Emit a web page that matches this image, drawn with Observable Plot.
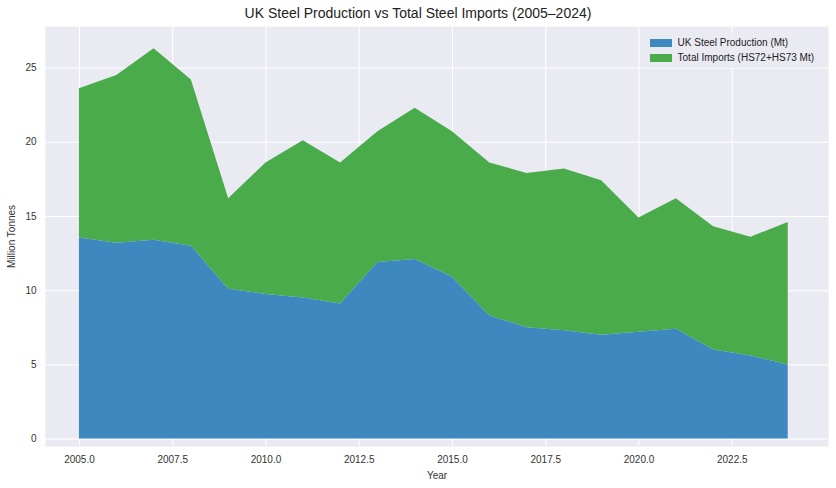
<!DOCTYPE html>
<html><head><meta charset="utf-8">
<script src="https://cdn.jsdelivr.net/npm/d3@7"></script>
<script src="https://cdn.jsdelivr.net/npm/@observablehq/plot@0.6"></script>
<style>
body{margin:0;background:#fff;font-family:"Liberation Sans",Arial,sans-serif;}
#wrap{position:relative;width:836px;}
#title{text-align:center;font-size:14px;color:#222;height:22px;line-height:26px;}
#legend{position:absolute;right:16px;top:32px;font-size:10px;color:#222;background:rgba(234,234,242,0.8);padding:3px 6px;line-height:15px;}
#legend span.sw{display:inline-block;width:22px;height:8px;margin-right:6px;vertical-align:-1px;}
</style></head><body>
<div id="wrap"><div id="title">UK Steel Production vs Total Steel Imports (2005–2024)</div>
<div id="legend"><div><span class="sw" style="background:#3d88bf"></span>UK Steel Production (Mt)</div><div><span class="sw" style="background:#4aab4a"></span>Total Imports (HS72+HS73 Mt)</div></div>
<div id="chart"></div></div>
<script>
const years=[2005,2006,2007,2008,2009,2010,2011,2012,2013,2014,2015,2016,2017,2018,2019,2020,2021,2022,2023,2024];
const production=[13.55,13.2,13.4,13.0,10.1,9.75,9.5,9.1,11.9,12.1,10.9,8.3,7.5,7.3,7.0,7.2,7.4,6.0,5.6,5.0];
const imports=[10.05,11.3,12.9,11.2,6.1,8.85,10.6,9.5,8.8,10.2,9.8,10.3,10.4,10.9,10.4,7.7,8.8,8.3,8.0,9.6];
const xTicks=[2005,2007.5,2010,2012.5,2015,2017.5,2020,2022.5];
const yTicks=[0,5,10,15,20,25];
const data=years.map((y,i)=>({year:y,prod:production[i],total:production[i]+imports[i]}));
const chart=Plot.plot({
  width:836,height:466,marginLeft:45,marginRight:8,marginTop:4,marginBottom:42,
  style:{fontFamily:"Liberation Sans, Arial, sans-serif",fontSize:"10px",color:"#333"},
  x:{domain:[2004.09,2025.08],ticks:xTicks,tickFormat:d=>d.toFixed(1),label:"Year",labelAnchor:"center",labelArrow:"none",tickSize:0},
  y:{domain:[-0.5,27.8],ticks:yTicks,label:"Million Tonnes",labelAnchor:"center",labelArrow:"none",tickSize:0},
  marks:[
    Plot.frame({fill:"#eaeaf2",stroke:"none"}),
    Plot.gridX(xTicks,{stroke:"#fff",strokeOpacity:1}),
    Plot.gridY(yTicks,{stroke:"#fff",strokeOpacity:1}),
    Plot.areaY(data,{x:"year",y1:"prod",y2:"total",fill:"#4aab4a"}),
    Plot.areaY(data,{x:"year",y1:0,y2:"prod",fill:"#3d88bf"}),
    Plot.axisX({ticks:xTicks,tickFormat:d=>d.toFixed(1),tickSize:0,label:"Year",labelAnchor:"center",labelArrow:"none",fontSize:10,labelOffset:32}),
    Plot.axisY({ticks:yTicks,tickSize:0,label:"Million Tonnes",labelAnchor:"center",labelArrow:"none",labelOffset:38})
  ]
});
document.getElementById("chart").append(chart);
</script></body></html>
